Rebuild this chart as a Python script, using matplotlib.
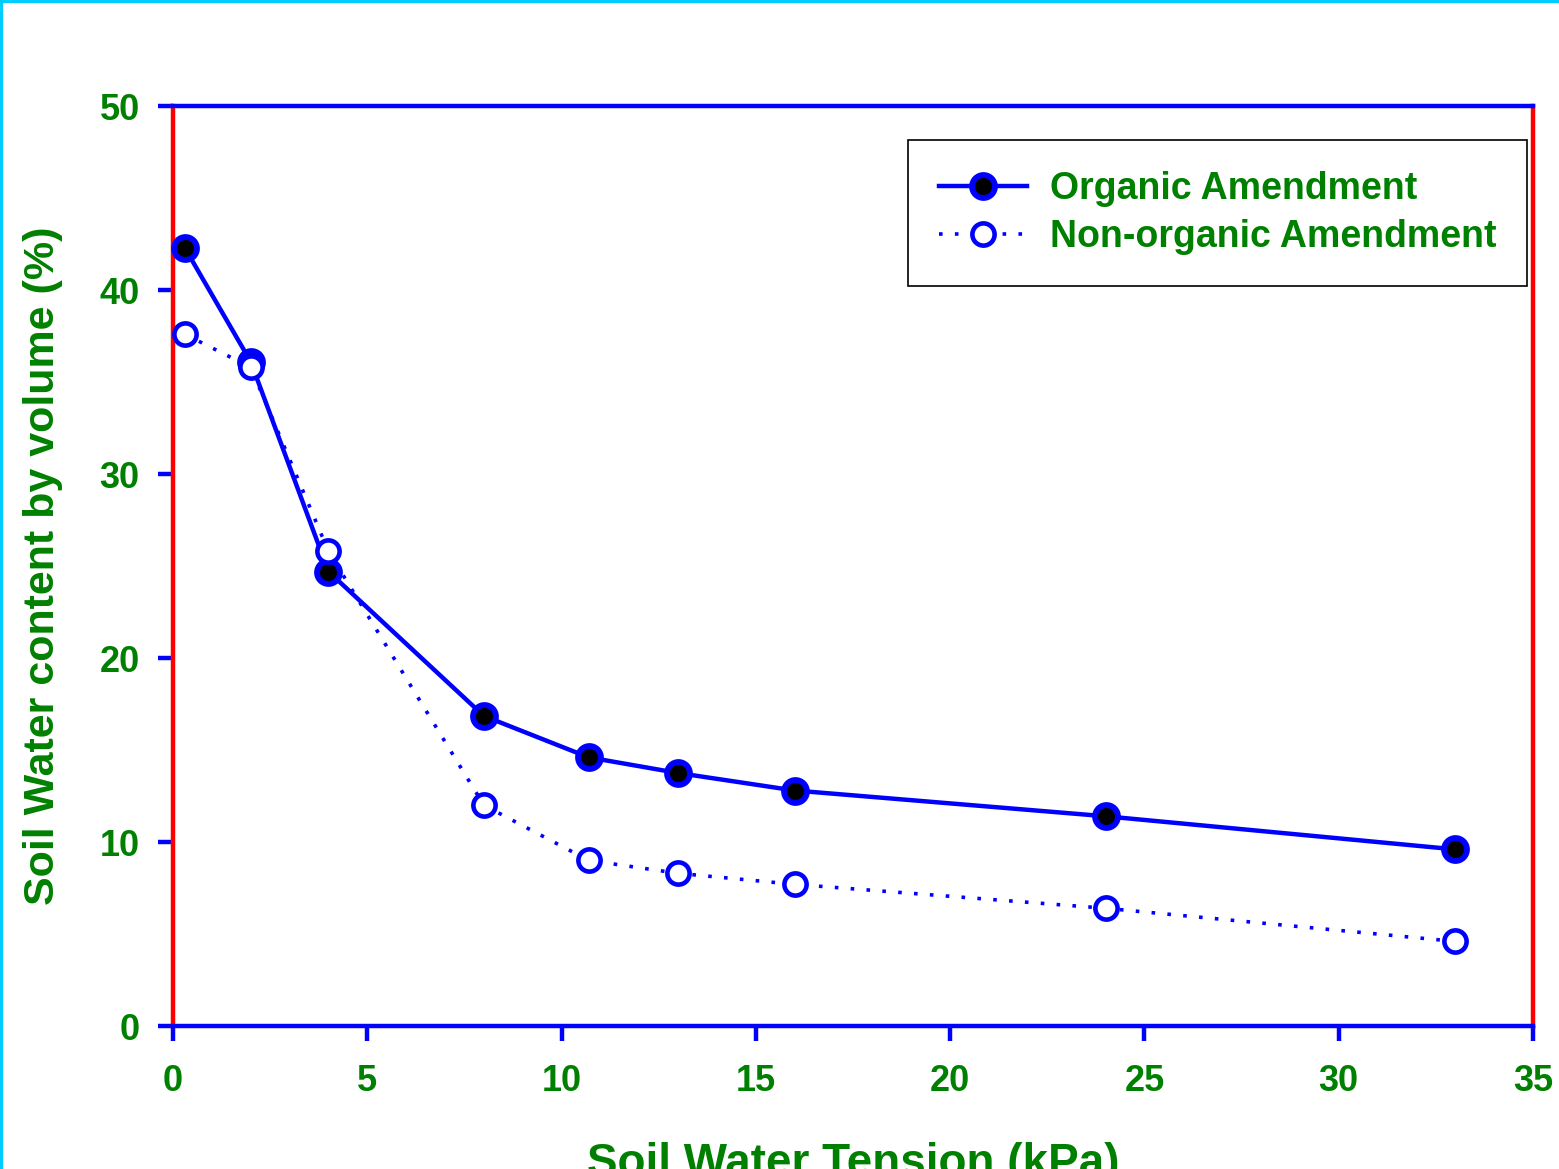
import matplotlib.pyplot as plt
from matplotlib.lines import Line2D

plt.rcParams["font.family"] = ["Liberation Sans", "DejaVu Sans"]
plt.rcParams["font.weight"] = "bold"

# data
tension_kpa = [0.3, 2, 4, 8, 10.7, 13, 16, 24, 33]
organic = [42.3, 36.1, 24.7, 16.85, 14.6, 13.75, 12.8, 11.4, 9.6]
non_organic = [37.6, 35.8, 25.8, 12.0, 9.0, 8.3, 7.7, 6.4, 4.6]

GREEN = "#008000"
BLUE = "#0000FF"
RED = "#FF0000"
CYAN = "#00CCFF"

fig = plt.figure(figsize=(15.59, 11.69), dpi=100)
ax = fig.add_axes([0.111, 0.1223, 0.8723, 0.787])

ax.plot(tension_kpa, organic, color=BLUE, lw=3.2, marker="o", ms=16.5,
        mfc="black", mec=BLUE, mew=4.2, clip_on=False, zorder=3,
        label="Organic Amendment")
ax.plot(tension_kpa, non_organic, color=BLUE, lw=2.6, ls=(0, (1, 3.4)),
        marker="o", ms=16, mfc="white", mec=BLUE, mew=3.3, clip_on=False,
        zorder=4, label="Non-organic Amendment")

ax.set_xlim(0, 35)
ax.set_ylim(0, 50)
ax.set_xticks(range(0, 36, 5))
ax.set_yticks(range(0, 51, 10))

for side in ["left", "right"]:
    ax.spines[side].set_color(RED)
for side in ["top", "bottom"]:
    ax.spines[side].set_color(BLUE)
for sp in ax.spines.values():
    sp.set_linewidth(3.2)

ax.tick_params(axis="both", direction="out", length=11, width=3.2,
               color=BLUE, labelcolor=GREEN, labelsize=26)
ax.tick_params(axis="x", pad=16)
ax.tick_params(axis="y", pad=13)

ax.set_xlabel("Soil Water Tension (kPa)", color=GREEN, fontsize=33,
              fontweight="bold", labelpad=31)
ax.set_ylabel("Soil Water content by volume (%)", color=GREEN, fontsize=31,
              fontweight="bold", labelpad=26)

leg = ax.legend(loc="upper right", bbox_to_anchor=(0.9956, 0.963),
                borderaxespad=0, fontsize=27, fancybox=False, framealpha=1,
                edgecolor="black", handlelength=2.35, numpoints=1,
                borderpad=0.82, labelspacing=0.33, handletextpad=0.6)
leg.get_frame().set_linewidth(1.2)
for t in leg.get_texts():
    t.set_color(GREEN)

# cyan frame on the top and left edges of the figure
fig.add_artist(Line2D([0, 1], [1, 1], transform=fig.transFigure,
                      color=CYAN, lw=4.5, clip_on=False))
fig.add_artist(Line2D([0, 0], [0, 1], transform=fig.transFigure,
                      color=CYAN, lw=4.5, clip_on=False))

fig.savefig("out.png", dpi=100)
